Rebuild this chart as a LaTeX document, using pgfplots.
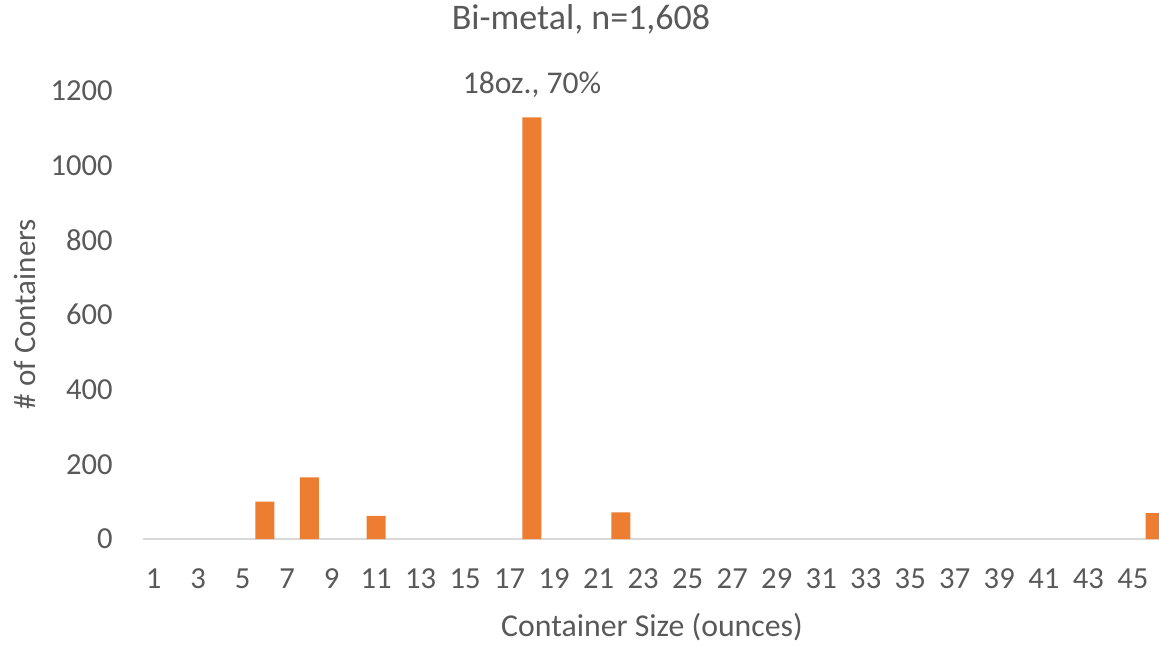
\documentclass[border=0pt]{standalone}
\usepackage{fontspec}
\setmainfont{Carlito}
\usepackage{pgfplots}
\pgfplotsset{compat=1.18}

\definecolor{barorange}{HTML}{ED7D31}
\definecolor{txtgray}{HTML}{595959}
\definecolor{linegray}{HTML}{D9D9D9}

\begin{document}
\begin{tikzpicture}
\begin{axis}[
    at={(0,0)}, anchor=south west,
    scale only axis,
    width=508.2pt, height=224.3pt,
    xmin=0.5, xmax=46.18,
    ymin=0, ymax=1200,
    xtick={1,3,...,45},
    ytick={0,200,...,1200},
    /pgf/number format/1000 sep={},
    /pgf/number format/assume math mode=true,
    major tick length=0pt,
    axis x line*=bottom,
    axis y line*=left,
    x axis line style={-, draw=linegray, line width=1.2pt},
    y axis line style={draw=none},
    tick label style={font=\fontsize{15.3}{18}\selectfont, text=txtgray, inner sep=0pt},
    x tick label style={anchor=base, yshift=-24.5pt},
    y tick label style={anchor=east, xshift=-14.8pt},
    ybar, bar width=9.5pt,
]
\addplot[fill=barorange, draw=none] coordinates {
    (6,100) (8,165) (11,62) (18,1128) (22,71) (46,69)
};
\coordinate (top18) at (axis cs:18,1128);
\end{axis}

% data label for the 18 oz. bar
\node[anchor=base, yshift=12pt, inner sep=0pt, text=txtgray,
      font=\fontsize{15.8}{18}\selectfont] at (top18) {18oz., 70\%};

% title and axis titles
\node[anchor=base, inner sep=0pt, text=txtgray, font=\fontsize{18}{21}\selectfont]
    at (219.2pt,254.8pt) {Bi-metal, n=1,608};
\node[anchor=base, inner sep=0pt, text=txtgray, font=\fontsize{15.9}{18}\selectfont]
    at (254.7pt,-48.5pt) {Container Size (ounces)};
\node[rotate=90, inner sep=0pt, text=txtgray, font=\fontsize{15.5}{18}\selectfont]
    at (-58.8pt,112.5pt) {\# of Containers};

\pgfresetboundingbox
\useasboundingbox (-71.3pt,-53pt) rectangle (508.2pt,269.5pt);
\end{tikzpicture}
\end{document}
